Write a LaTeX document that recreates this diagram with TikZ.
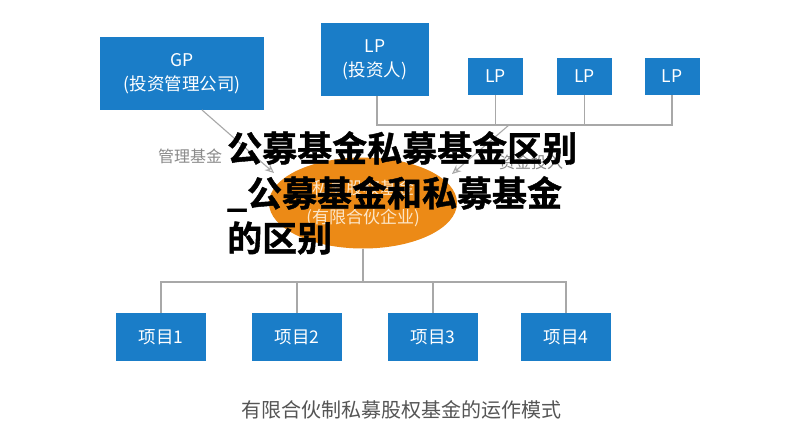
\documentclass[tikz,border=0pt]{standalone}
\usepackage{fontspec}
\setmainfont{Noto Sans CJK SC}
\newfontfamily\cjk{Noto Sans CJK SC}
\newfontfamily\cjkheavy{Noto Sans CJK SC Bold}[FakeBold=1.2]
\usetikzlibrary{arrows.meta,shapes.geometric}
\definecolor{boxblue}{HTML}{1A7DC8}
\definecolor{fundorange}{HTML}{EC8A16}
\definecolor{linegray}{HTML}{A8A8A8}
\definecolor{labelgray}{HTML}{8A8A8A}
\definecolor{captiongray}{HTML}{555555}
\definecolor{innertext}{HTML}{FCE6C8}
\begin{document}
\begin{tikzpicture}[x=1pt,y=-1pt,
  bluebox/.style={fill=boxblue,text=white,inner sep=0pt,align=center,font=\cjk\fontsize{17.5}{24}\selectfont},
  conn/.style={draw=linegray,line width=1.3pt},
  arr/.style={draw=linegray,line width=1.1pt,-{Stealth[length=9pt,width=8pt,open]}},
  lbl/.style={text=labelgray,font=\cjk\fontsize{16}{18}\selectfont,inner sep=0pt},
  overlay/.style={text=black,font=\cjkheavy\fontsize{35}{45}\selectfont,inner sep=0pt,anchor=west}]
\useasboundingbox (0,0) rectangle (800,441);
\fill[white] (0,0) rectangle (800,441);
% top boxes
\node[bluebox,minimum width=164pt,minimum height=73pt] (gp) at (182,73.5) {GP\\(投资管理公司)};
\node[bluebox,minimum width=108pt,minimum height=73pt] (lp) at (375,59.5) {LP\\(投资人)};
\node[bluebox,minimum width=55pt,minimum height=37pt] (lp1) at (495.5,76.5) {LP};
\node[bluebox,minimum width=55pt,minimum height=37pt] (lp2) at (584.5,76.5) {LP};
\node[bluebox,minimum width=55pt,minimum height=37pt] (lp3) at (672,76.5) {LP};
% fund
\node[ellipse,fill=fundorange,minimum width=188pt,minimum height=91pt,inner sep=0pt] (fund) at (363,203) {};
\node[text=innertext,font=\cjk\fontsize{17}{29}\selectfont,align=center,inner sep=0pt] (fundtxt) at (363,203) {私募股权基金\\(有限合伙企业)};
% projects
\node[bluebox,minimum width=90pt,minimum height=48pt] (p1) at (161,337) {项目1};
\node[bluebox,minimum width=90pt,minimum height=48pt] (p2) at (297,337) {项目2};
\node[bluebox,minimum width=90pt,minimum height=48pt] (p3) at (433,337) {项目3};
\node[bluebox,minimum width=90pt,minimum height=48pt] (p4) at (566,337) {项目4};
% top connectors
\coordinate (tl) at (377,125);
\coordinate (tr) at (672,125);
\coordinate (astart) at (509,125);
\draw[conn] (lp.south -| tl) -- (tl) -- (tr) -- (lp3.south);
\draw[conn] (lp1.south) -- (lp1.south |- tl);
\draw[conn] (lp2.south) -- (lp2.south |- tl);
\coordinate (gpstart) at (202,110);
\coordinate (gptip) at (274,173);
\coordinate (lptip) at (452,174);
\draw[arr] (gpstart) -- (gptip);
\draw[arr] (astart) -- (lptip);
\node[lbl] (l1) at (190,156) {管理基金};
\node[lbl] (l2) at (531,162) {资金投入};
% bottom connectors
\coordinate (bl) at (161,282);
\coordinate (br) at (566,282);
\draw[conn] (fund.south) -- (fund.south |- bl);
\draw[conn] (p1.north) -- (bl) -- (br) -- (p4.north);
\draw[conn] (p2.north) -- (p2.north |- bl);
\draw[conn] (p3.north) -- (p3.north |- bl);
% caption
\node[text=captiongray,font=\cjk\fontsize{20}{22}\selectfont,inner sep=0pt] (cap) at (401,410) {有限合伙制私募股权基金的运作模式};
% overlay title
\node[overlay] (t1) at (227,148) {公募基金私募基金区别};
\node[overlay] (t2) at (227,194) {\_公募基金和私募基金};
\node[overlay] (t3) at (227,238) {的区别};
\end{tikzpicture}
\end{document}
